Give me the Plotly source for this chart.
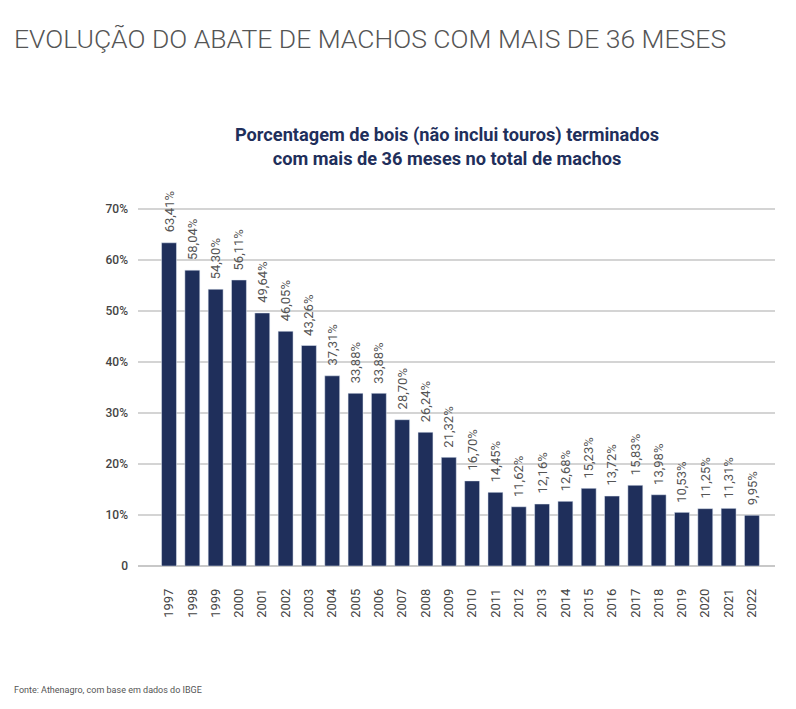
import plotly.graph_objects as go

years = ["1997","1998","1999","2000","2001","2002","2003","2004","2005","2006","2007","2008","2009",
         "2010","2011","2012","2013","2014","2015","2016","2017","2018","2019","2020","2021","2022"]
values = [63.41, 58.04, 54.30, 56.11, 49.64, 46.05, 43.26, 37.31, 33.88, 33.88, 28.70, 26.24, 21.32,
          16.70, 14.45, 11.62, 12.16, 12.68, 15.23, 13.72, 15.83, 13.98, 10.53, 11.25, 11.31, 9.95]
y_tickvals = [0, 10, 20, 30, 40, 50, 60, 70]
y_ticktext = ["0", "10%", "20%", "30%", "40%", "50%", "60%", "70%"]

labels = [f"{v:.2f}".replace(".", ",") + "%" for v in values]

FONT = "Roboto, Inter, sans-serif"

# page body has an 8px margin; figure laid out in its own coordinates
W_FIG, H_FIG = 788, 701
L, R, T, B = 130, 21, 191, 143
PW = W_FIG - L - R
PH = H_FIG - T - B
OFF = 8

def px(vx, pad=2):
    return (vx - OFF - pad - L) / PW

def py(vy):
    return (H_FIG - B - (vy - OFF)) / PH

fig = go.Figure(go.Bar(
    x=years, y=values,
    marker=dict(color="#1f2f5b"), cliponaxis=False, width=0.64,
    hovertemplate="%{x}: %{y:.2f}%<extra></extra>",
))

# value labels above each bar (category index used as x on the category axis)
bar_label_annotations = [
    dict(x=i, y=v, xref="x", yref="y", text=lab, textangle=-90, showarrow=False,
         xanchor="center", yanchor="bottom", yshift=8,
         font=dict(family=FONT, size=13, color="#555555"))
    for i, (v, lab) in enumerate(zip(values, labels))
]

fig.update_layout(
    width=W_FIG, height=H_FIG,
    paper_bgcolor="white", plot_bgcolor="white",
    margin=dict(l=L, r=R, t=T, b=B, autoexpand=False),
    showlegend=False,
    xaxis=dict(type="category", range=[-1.33, 25.99], showgrid=False, showline=False,
               tickangle=-90, ticks="", ticklabelstandoff=19,
               tickfont=dict(family=FONT, size=13, color="#444444")),
    yaxis=dict(range=[0, 72], tickvals=y_tickvals, ticktext=y_ticktext, showgrid=True,
               gridcolor="#d4d4d4", gridwidth=1.5, zeroline=True, zerolinecolor="#c8c8c8",
               zerolinewidth=2, ticks="", ticklabelstandoff=9,
               tickfont=dict(family=FONT, size=12, color="#444444", weight=500)),
    annotations=bar_label_annotations + [
        dict(text="EVOLUÇÃO DO ABATE DE MACHOS COM MAIS DE 36 MESES", xref="paper", yref="paper",
             x=px(14), xanchor="left", y=py(38), yanchor="middle", showarrow=False,
             font=dict(family=FONT, size=26.5, color="#555555", weight=300)),
        dict(text="<b>Porcentagem de bois (não inclui touros) terminados<br>com mais de 36 meses no total de machos</b>",
             xref="paper", yref="paper", x=px(447, 0), xanchor="center",
             y=py(146), yanchor="middle", showarrow=False,
             font=dict(family=FONT, size=18.2, color="#1f2f5b")),
        dict(text="Fonte: Athenagro, com base em dados do IBGE", xref="paper", yref="paper",
             x=px(14), xanchor="left", y=py(690), yanchor="middle",
             showarrow=False, font=dict(family=FONT, size=9, color="#555555")),
    ],
)

fig.write_html("out.html")
